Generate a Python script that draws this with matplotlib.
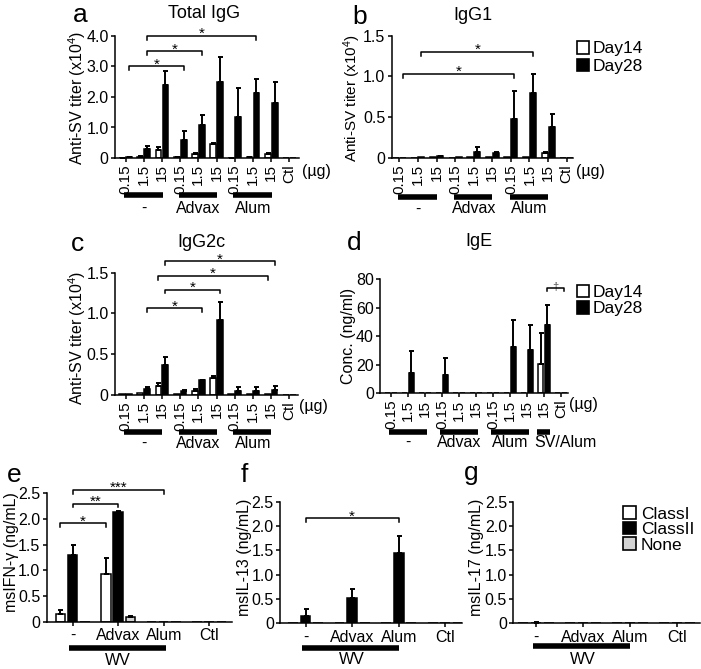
import numpy as np
import matplotlib
matplotlib.use('Agg')
import matplotlib.pyplot as plt
from matplotlib.patches import Patch

plt.rcParams['font.family'] = ['Liberation Sans', 'DejaVu Sans']
plt.rcParams['mathtext.fontset'] = 'custom'
plt.rcParams['mathtext.rm'] = 'Liberation Sans'
plt.rcParams['mathtext.it'] = 'Liberation Sans:italic'

W, H = 701, 669

# ---- data ----
dose_labels = ['0.15', '1.5', '15'] * 3 + ['Ctl']
ige_labels = ['0.15', '1.5', '15'] * 3 + ['15', 'Ctl']
adjuvants = ['-', 'Advax', 'Alum']
cyto_labels = ['-', 'Advax', 'Alum', 'Ctl']

# a: total IgG (x10^4)
igg_d14 = [0.01, 0.04, 0.27, 0.02, 0.13, 0.46, 0.01, 0.03, 0.14, 0]
igg_d14_err = [0.005, 0.01, 0.1, 0.005, 0.03, 0.02, 0.005, 0.01, 0.02, 0]
igg_d28 = [0.02, 0.3, 2.4, 0.6, 1.07, 2.5, 1.36, 2.14, 1.8, 0]
igg_d28_err = [0.005, 0.09, 0.46, 0.3, 0.33, 0.82, 0.95, 0.45, 0.68, 0]

# b: IgG1
igg1_d14 = [0, 0, 0.005, 0, 0.005, 0.005, 0.005, 0.01, 0.06, 0]
igg1_d14_err = [0, 0, 0, 0, 0, 0, 0, 0, 0.005, 0]
igg1_d28 = [0, 0.005, 0.02, 0.005, 0.07, 0.06, 0.48, 0.79, 0.38, 0]
igg1_d28_err = [0, 0, 0.005, 0, 0.06, 0.005, 0.34, 0.24, 0.16, 0]

# c: IgG2c
igg2c_d14 = [0.005, 0.02, 0.11, 0.005, 0.04, 0.21, 0.005, 0.005, 0.005, 0]
igg2c_d14_err = [0, 0, 0.04, 0, 0.025, 0.02, 0, 0, 0, 0]
igg2c_d28 = [0.01, 0.065, 0.37, 0.05, 0.175, 0.92, 0.05, 0.045, 0.055, 0]
igg2c_d28_err = [0, 0.03, 0.09, 0.005, 0.005, 0.22, 0.05, 0.045, 0.055, 0]

# d: IgE (ng/ml)
ige_d14 = [0, 0, 0, 0, 0, 0, 0, 0, 0, 20.7, 0]
ige_d14_err = [0, 0, 0, 0, 0, 0, 0, 0, 0, 21.7, 0]
ige_d28 = [0, 14.5, 0, 12.6, 0, 0, 0, 32.2, 30.3, 47.6, 0]
ige_d28_err = [0, 15.1, 0, 12.4, 0, 0, 0, 19.1, 17.3, 14.0, 0]

# e-g: cytokines (ng/mL)
ifn_c1 = [0.16, 0.93, 0, 0]
ifn_c1_err = [0.07, 0.32, 0, 0]
ifn_c2 = [1.3, 2.13, 0, 0]
ifn_c2_err = [0.19, 0.03, 0, 0]
ifn_none = [0, 0.09, 0, 0]
ifn_none_err = [0, 0.02, 0, 0]

il13_c1 = [0, 0, 0, 0]
il13_c2 = [0.15, 0.52, 1.45, 0]
il13_c2_err = [0.15, 0.19, 0.35, 0]
il13_none = [0, 0, 0, 0]

il17_c1 = [0, 0, 0, 0]
il17_c2 = [0.01, 0, 0, 0]
il17_c2_err = [0.01, 0, 0, 0]
il17_none = [0, 0, 0, 0]

# significance marks: (x1, x2, y, text)
sig_a = [(0.19, 3.19, 3.0, '*'), (1.19, 4.19, 3.5, '*'), (1.19, 7.19, 4.0, '*')]
sig_b = [(0.19, 6.19, 1.03, '*'), (1.19, 7.19, 1.30, '*')]
sig_c = [(1.19, 4.19, 1.06, '*'), (2.19, 5.19, 1.29, '*'),
         (1.81, 7.81, 1.46, '*'), (2.19, 8.19, 1.64, '*')]
sig_d = [(9.19, 10.19, 74, '\u2020')]
sig_e = [(-0.27, 0.73, 1.91, '*'), (0, 1, 2.29, '**'), (0, 2, 2.56, '***')]
sig_f = [(0, 2, 2.16, '*')]

TICK_FS = 11
LAB_FS = 11.5
YLAB_FS = 11.5

fig = plt.figure(figsize=(W / 100, H / 100), dpi=100)


def px_axes(x0, x1, y0, y1):
    return fig.add_axes([x0 / W, 1 - y1 / H, (x1 - x0) / W, (y1 - y0) / H])


def ftext(x, y, s, **kw):
    fig.text(x / W, 1 - y / H, s, **kw)


def style(ax, xlim, ylim, yticks, yticklabels, xticks, xticklabels, rot):
    ax.set_xlim(*xlim)
    ax.set_ylim(*ylim)
    for s in ['top', 'right']:
        ax.spines[s].set_visible(False)
    for s in ['left', 'bottom']:
        ax.spines[s].set_linewidth(1.1)
    ax.set_yticks(yticks)
    ax.set_yticklabels(yticklabels, fontsize=TICK_FS + 0.5)
    ax.set_xticks(xticks)
    ax.set_xticklabels(xticklabels, fontsize=TICK_FS if rot else LAB_FS, rotation=rot)
    ax.tick_params(axis='both', direction='out', length=3, width=1.1, pad=1.5)


def draw_bars(ax, series, offsets, width):
    for (vals, errs, color), off in zip(series, offsets):
        x = np.arange(len(vals)) + off
        ax.bar(x, vals, width=width, color=color, edgecolor='black',
               linewidth=1.1, zorder=2)
        if errs is not None:
            errs = np.array(errs)
            m = errs > 0
            ax.errorbar(x[m], np.array(vals)[m],
                        yerr=[np.zeros(m.sum()), errs[m]],
                        fmt='none', ecolor='black', elinewidth=1.4,
                        capsize=1.8, capthick=1.4, zorder=3)


def brackets(ax, marks, drop, fs=11, color='black'):
    for x1, x2, y, t in marks:
        ax.plot([x1, x1, x2, x2], [y - drop, y, y, y - drop], color='black',
                lw=1.1, clip_on=False, zorder=4)
        ax.annotate(t, ((x1 + x2) / 2, y), xytext=(0, -1.5),
                    textcoords='offset points', ha='center', va='baseline',
                    fontsize=fs, color=color, annotation_clip=False)


def underline(ax, x1, x2, ybar, label, xlab, ylab, ha='center'):
    ax.plot([x1, x2], [ybar, ybar], transform=ax.get_xaxis_transform(),
            color='black', lw=4, solid_capstyle='butt', clip_on=False)
    ax.text(xlab, ylab, label, transform=ax.get_xaxis_transform(),
            ha=ha, va='center', fontsize=LAB_FS)


dose_off = [-0.19, 0.19]
dose_w = 0.32
titer_label = r'Anti-SV titer (x10$^{4}$)'

# ---- a ----
ax = px_axes(115, 299, 36, 158)
draw_bars(ax, [(igg_d14, igg_d14_err, 'white'), (igg_d28, igg_d28_err, 'black')],
          dose_off, dose_w)
style(ax, (-0.58, 9.53), (0, 4.0), [0, 1, 2, 3, 4],
      ['0', '1.0', '2.0', '3.0', '4.0'], range(10), dose_labels, 90)
brackets(ax, sig_a, 0.13)
for g, name in enumerate(adjuvants):
    underline(ax, 3 * g - 0.08, 3 * g + 2.05, -0.306, name, 3 * g + 1, -0.41)
ftext(316, 171, '(\u00b5g)', ha='center', va='center', fontsize=LAB_FS)
ftext(77, 98, titer_label, rotation=90, ha='center', va='center', fontsize=YLAB_FS)
ftext(204, 14, 'Total IgG', ha='center', va='center', fontsize=13)
ftext(80, 15, 'a', ha='center', va='center', fontsize=19)

# ---- b ----
ax = px_axes(391.7, 573, 35.7, 157.7)
draw_bars(ax, [(igg1_d14, igg1_d14_err, 'white'), (igg1_d28, igg1_d28_err, 'black')],
          dose_off, dose_w)
style(ax, (-0.41, 9.34), (0, 1.5), [0, 0.5, 1.0, 1.5],
      ['0', '0.5', '1.0', '1.5'], range(10), dose_labels, 90)
brackets(ax, sig_b, 0.05)
for g, name in enumerate(adjuvants):
    underline(ax, 3 * g - 0.05, 3 * g + 2.0, -0.32, name, 3 * g + 1, -0.42)
ftext(590, 172, '(\u00b5g)', ha='center', va='center', fontsize=LAB_FS)
ftext(352, 98, titer_label, rotation=90, ha='center', va='center', fontsize=11)
ftext(473, 16, 'IgG1', ha='center', va='center', fontsize=13)
ftext(360, 17, 'b', ha='center', va='center', fontsize=19)
fig.legend(handles=[Patch(facecolor='white', edgecolor='black', lw=1.2, label='Day14'),
                    Patch(facecolor='black', edgecolor='black', lw=1.2, label='Day28')],
           loc='center left', bbox_to_anchor=(576.7 / W, 1 - 57.5 / H), frameon=False,
           fontsize=12.5, handlelength=0.72, handleheight=0.72, handletextpad=0.2,
           labelspacing=0.12, borderpad=0, borderaxespad=0)

# ---- c ----
ax = px_axes(115, 298, 272.7, 394.7)
draw_bars(ax, [(igg2c_d14, igg2c_d14_err, 'white'), (igg2c_d28, igg2c_d28_err, 'black')],
          dose_off, dose_w)
style(ax, (-0.58, 9.48), (0, 1.5), [0, 0.5, 1.0, 1.5],
      ['0', '0.5', '1.0', '1.5'], range(10), dose_labels, 90)
brackets(ax, sig_c, 0.045)
for g, name in enumerate(adjuvants):
    underline(ax, 3 * g - 0.08, 3 * g + 2.0, -0.306, name, 3 * g + 1, -0.40)
ftext(313, 407, '(\u00b5g)', ha='center', va='center', fontsize=LAB_FS)
ftext(77, 338, titer_label, rotation=90, ha='center', va='center', fontsize=YLAB_FS)
ftext(201, 243, 'IgG2c', ha='center', va='center', fontsize=13)
ftext(78, 244, 'c', ha='center', va='center', fontsize=19)

# ---- d ----
ax = px_axes(380, 568.3, 279, 393.3)
draw_bars(ax, [(ige_d14, ige_d14_err, 'white'), (ige_d28, ige_d28_err, 'black')],
          [-0.2, 0.19], 0.32)
style(ax, (-0.65, 10.43), (0, 80), [0, 20, 40, 60, 80],
      ['0', '20', '40', '60', '80'], range(11), ige_labels, 90)
brackets(ax, sig_d, 2.5, fs=8, color='#555555')
for g, name in enumerate(adjuvants):
    underline(ax, 3 * g - 0.1, 3 * g + 2.12, -0.336, name, 3 * g + 1, -0.432)
underline(ax, 8.6, 9.35, -0.336, 'SV/Alum', 8.45, -0.432, ha='left')
ftext(583, 405, '(\u00b5g)', ha='center', va='center', fontsize=LAB_FS)
ftext(349, 336, 'Conc. (ng/ml)', rotation=90, ha='center', va='center', fontsize=YLAB_FS)
ftext(479, 241, 'IgE', ha='center', va='center', fontsize=13)
ftext(354, 243, 'd', ha='center', va='center', fontsize=19)
fig.legend(handles=[Patch(facecolor='white', edgecolor='black', lw=1.2, label='Day14'),
                    Patch(facecolor='black', edgecolor='black', lw=1.2, label='Day28')],
           loc='center left', bbox_to_anchor=(576.7 / W, 1 - 300.5 / H), frameon=False,
           fontsize=12.5, handlelength=0.72, handleheight=0.72, handletextpad=0.2,
           labelspacing=0.08, borderpad=0, borderaxespad=0)

# ---- e, f, g ----
cyto_off = [-0.27, 0, 0.27]
cyto_w = 0.21
cyto_ticks = [0, 0.5, 1.0, 1.5, 2.0, 2.5]
cyto_tl = ['0', '0.5', '1.0', '1.5', '2.0', '2.5']

ax = px_axes(46.7, 232, 493, 622)
draw_bars(ax, [(ifn_c1, ifn_c1_err, 'white'), (ifn_c2, ifn_c2_err, 'black'),
               (ifn_none, ifn_none_err, '#d3d3d3')], cyto_off, cyto_w)
style(ax, (-0.57, 3.5), (0, 2.5), cyto_ticks, cyto_tl, range(4), cyto_labels, 0)
brackets(ax, sig_e, 0.07)
underline(ax, -0.08, 2.05, -0.204, 'WV', 1, -0.295)
ftext(12, 552, 'msIFN-\u03b3 (ng/mL)', rotation=90, ha='center', va='center', fontsize=YLAB_FS)
ftext(14, 475, 'e', ha='center', va='center', fontsize=19)

ax = px_axes(280, 462, 501.7, 623.3)
draw_bars(ax, [(il13_c1, None, 'white'), (il13_c2, il13_c2_err, 'black'),
               (il13_none, None, '#d3d3d3')], cyto_off, cyto_w)
style(ax, (-0.55, 3.36), (0, 2.5), cyto_ticks, cyto_tl, range(4), cyto_labels, 0)
brackets(ax, sig_f, 0.07)
underline(ax, -0.07, 2.01, -0.206, 'WV', 1, -0.30)
ftext(244, 557, 'msIL-13 (ng/mL)', rotation=90, ha='center', va='center', fontsize=YLAB_FS)
ftext(244, 475, 'f', ha='center', va='center', fontsize=19)

ax = px_axes(513.3, 700, 501.7, 623.3)
draw_bars(ax, [(il17_c1, None, 'white'), (il17_c2, il17_c2_err, 'black'),
               (il17_none, None, '#d3d3d3')], cyto_off, cyto_w)
style(ax, (-0.48, 3.49), (0, 2.5), cyto_ticks, cyto_tl, range(4), cyto_labels, 0)
underline(ax, -0.07, 2.01, -0.19, 'WV', 1, -0.30)
ftext(476, 557, 'msIL-17 (ng/mL)', rotation=90, ha='center', va='center', fontsize=YLAB_FS)
ftext(471, 473, 'g', ha='center', va='center', fontsize=19)
fig.legend(handles=[Patch(facecolor='white', edgecolor='black', lw=1.2, label='ClassI'),
                    Patch(facecolor='black', edgecolor='black', lw=1.2, label='ClassII'),
                    Patch(facecolor='#d3d3d3', edgecolor='black', lw=1.2, label='None')],
           loc='center left', bbox_to_anchor=(623.3 / W, 1 - 529.5 / H), frameon=False,
           fontsize=12.5, handlelength=0.72, handleheight=0.72, handletextpad=0.3,
           labelspacing=0.02, borderpad=0, borderaxespad=0)

fig.savefig('out.png', dpi=100)
